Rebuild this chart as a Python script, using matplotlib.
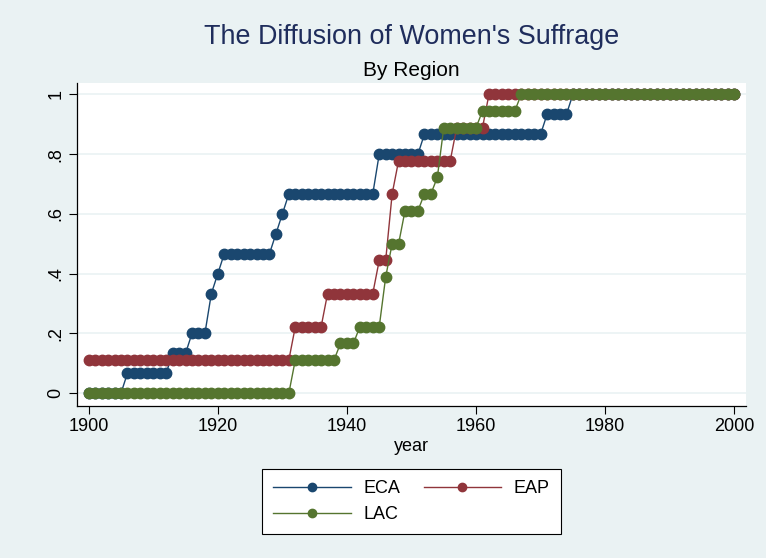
import numpy as np
import matplotlib
matplotlib.use('Agg')
import matplotlib.pyplot as plt

plt.rcParams['font.family'] = ['Liberation Sans', 'DejaVu Sans']

# 数据: 各地区开始年份 -> 比例 (阶梯)
eca_years = [1900, 1906, 1913, 1916, 1919, 1920, 1921, 1929, 1930, 1931, 1945, 1952, 1971, 1975]
eca_share = [0, 1/15, 2/15, 3/15, 5/15, 6/15, 7/15, 8/15, 9/15, 10/15, 12/15, 13/15, 14/15, 1]

eap_years = [1900, 1932, 1937, 1945, 1947, 1948, 1957, 1962]
eap_share = [1/9, 2/9, 3/9, 4/9, 6/9, 7/9, 8/9, 1]

lac_years = [1900, 1932, 1939, 1942, 1946, 1947, 1949, 1952, 1954, 1955, 1961, 1967]
lac_share = [0, 2/18, 3/18, 4/18, 7/18, 9/18, 11/18, 12/18, 13/18, 16/18, 17/18, 1]

years = np.arange(1900, 2001)


def expand(start_years, shares):
    idx = np.searchsorted(start_years, years, side='right') - 1
    return np.array(shares)[idx]


series = [('ECA', eca_years, eca_share, '#1A476F'),
          ('EAP', eap_years, eap_share, '#90353B'),
          ('LAC', lac_years, lac_share, '#55752F')]

bg = '#EAF2F3'
fig = plt.figure(figsize=(7.66, 5.58), dpi=100, facecolor=bg)
ax = fig.add_axes([77/766, 1-405.8/558, (746-77)/766, (405.8-83.3)/558])
ax.set_facecolor('white')

lines = {}
for name, yrs, sh, col in series:
    lines[name], = ax.plot(years, expand(yrs, sh), color=col, lw=1.0, marker='o', ms=7.5,
                           mec=col, mfc=col, label=name)

ax.set_xlim(1898.19, 2001.81)
ax.set_ylim(-0.042, 1.037)
ax.set_xticks([1900, 1920, 1940, 1960, 1980, 2000])
ax.set_yticks([0, 0.2, 0.4, 0.6, 0.8, 1])
ax.set_yticklabels(['0', '.2', '.4', '.6', '.8', '1'], rotation=90, va='center')
ax.tick_params(labelsize=13, length=5.5, width=0.8, direction='out')
ax.grid(axis='y', color=bg, lw=1.2)
ax.set_axisbelow(True)
for s in ['top', 'right']:
    ax.spines[s].set_visible(False)
for s in ['left', 'bottom']:
    ax.spines[s].set_linewidth(0.9)
ax.set_xlabel('year', fontsize=13, labelpad=2)

fig.text(411.5/766, 1-37/558, "The Diffusion of Women's Suffrage", ha='center', va='center',
         fontsize=19.4, color='#1F2D5C')
fig.text(411.5/766, 1-70/558, 'By Region', ha='center', va='center', fontsize=15)

# 按行排列: ECA EAP / LAC
order = ['ECA', 'LAC', 'EAP']
leg = fig.legend([lines[k] for k in order], order, loc='upper center',
                 bbox_to_anchor=(411.5/766, 1-469.3/558), ncol=2, borderaxespad=0,
                 fontsize=13, frameon=True, fancybox=False, edgecolor='black',
                 framealpha=1, handlelength=4.3, handletextpad=0.7, columnspacing=1.3,
                 labelspacing=0.5, borderpad=0.6, markerscale=0.8)
leg.get_frame().set_linewidth(0.8)

plt.savefig('out.png', dpi=100, facecolor=bg)
